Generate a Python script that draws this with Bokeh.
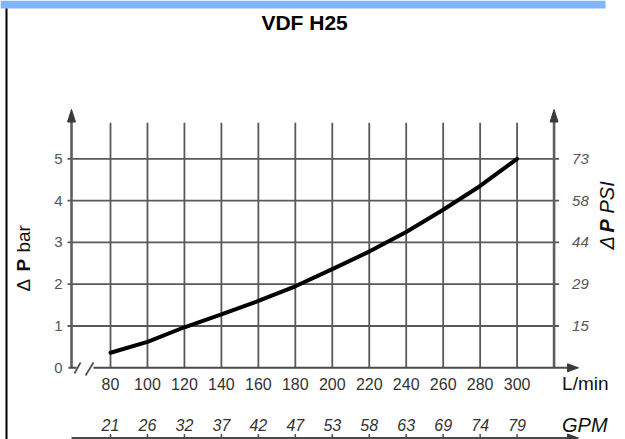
import numpy as np
from bokeh.plotting import figure
from bokeh.models import Range1d
from bokeh.core.properties import value
from bokeh.embed import file_html
from bokeh.resources import INLINE

# ---------------- data ----------------
title = "VDF H25"
flow_lpm = [80, 100, 120, 140, 160, 180, 200, 220, 240, 260, 280, 300]
dp_bar = [0.36, 0.62, 0.97, 1.28, 1.60, 1.95, 2.36, 2.78, 3.25, 3.78, 4.35, 5.00]
bar_ticks = [0, 1, 2, 3, 4, 5]
psi_ticks = [1, 2, 3, 4, 5]
psi_labels = ["15", "29", "44", "58", "73"]
gpm_labels = ["21", "26", "32", "37", "42", "47", "53", "58", "63", "69", "74", "79"]
x_label = "L/min"
x2_label = "GPM"

# ---------------- layout constants ----------------
FONT = value("Liberation Sans")
W, H = 625, 439
X0, X1 = 20.48, 358.65
Y0, Y1 = -1.715, 8.787
PXX = W / (X1 - X0)   # px per L/min
PXY = H / (Y1 - Y0)   # px per bar
left_x, right_x = 58.9, 320.0
grid_top = 5.86
tip_y = 6.18
base_y = grid_top + 0.02
x_tip = 333.2
x_base = 327.3
gpm_y = -1.68
GRID = "#595959"

p = figure(width=W, height=H, x_range=Range1d(X0, X1), y_range=Range1d(Y0, Y1),
           output_backend="svg", toolbar_location=None, min_border=0,
           x_axis_location=None, y_axis_location=None)
for g in p.grid:
    g.visible = False
p.outline_line_color = None
p.background_fill_color = "white"
p.border_fill_color = "white"

# top blue band and left page border line
p.quad(left=[X0], right=[X0 + 605 / PXX], top=[Y1], bottom=[Y1 - 8 / PXY],
       fill_color="#80b4ff", line_color=None)
p.segment(x0=[X0 + 6 / PXX], y0=[Y0], x1=[X0 + 6 / PXX], y1=[Y1 - 8 / PXY],
          line_color="black", line_width=2)

# vertical grid lines
p.segment(x0=flow_lpm, y0=[0] * len(flow_lpm), x1=flow_lpm, y1=[grid_top] * len(flow_lpm),
          line_color=GRID, line_width=1.8)
# horizontal grid lines (with small outer ticks)
hy = bar_ticks[1:]
p.segment(x0=[left_x - 4 / PXX] * len(hy), y0=hy, x1=[right_x + 5 / PXX] * len(hy), y1=hy,
          line_color=GRID, line_width=1.8)

# axis lines
p.segment(x0=[left_x, right_x], y0=[0, 0], x1=[left_x, right_x], y1=[base_y, base_y],
          line_color="#5e5e5e", line_width=2.6)
# baseline with break
p.segment(x0=[left_x - 3 / PXX, 70.8], y0=[0, 0], x1=[61.6, x_base], y1=[0, 0],
          line_color="#4a4a4a", line_width=2)
p.segment(x0=[60.5, 66.5], y0=[-0.136, -0.184], x1=[63.8, 70.8], y1=[0.127, 0.127],
          line_color="#4a4a4a", line_width=1.6)

# GPM axis line at the bottom, with small ticks
p.segment(x0=[left_x], y0=[gpm_y], x1=[x_base], y1=[gpm_y], line_color="#4a4a4a", line_width=2)
p.segment(x0=flow_lpm, y0=[gpm_y] * len(flow_lpm), x1=flow_lpm,
          y1=[gpm_y + 4 / PXY] * len(flow_lpm), line_color="#4a4a4a", line_width=1.5)

# arrow heads
hw = 4 / PXX
hh = 4 / PXY
p.patches(xs=[[left_x, left_x - hw, left_x + hw], [right_x, right_x - hw, right_x + hw],
              [x_tip, x_base, x_base], [x_tip, x_base, x_base]],
          ys=[[tip_y, base_y, base_y], [tip_y, base_y, base_y], [0, hh, -hh],
              [gpm_y, gpm_y + hh, gpm_y - hh]],
          fill_color="#3a3a3a", line_color="#3a3a3a", line_width=1)

# curve
p.line(flow_lpm, dp_bar, line_color="black", line_width=4, line_cap="round", line_join="round")

# title
p.text(x=[185], y=[8.26], text=[title], text_font=FONT, text_font_style="bold",
       text_font_size="21px", text_align="center", text_baseline="middle", text_color="black")

# left tick labels
p.text(x=[left_x] * len(bar_ticks), y=bar_ticks, text=[str(t) for t in bar_ticks],
       x_offset=-9, text_font=FONT, text_font_size="15px", text_align="right",
       text_baseline="middle", text_color="#555555")
# right tick labels (PSI)
p.text(x=[right_x] * len(psi_ticks), y=psi_ticks, text=psi_labels, x_offset=18,
       text_font=FONT, text_font_size="15px", text_font_style="italic", text_align="left",
       text_baseline="middle", text_color="#555555")
# x tick labels (L/min)
p.text(x=flow_lpm, y=[0] * len(flow_lpm), text=[str(v) for v in flow_lpm], y_offset=16,
       text_font=FONT, text_font_size="16px", text_align="center", text_baseline="middle",
       text_color="#333333")
# second x tick labels (GPM)
p.text(x=flow_lpm, y=[0] * len(flow_lpm), text=gpm_labels, y_offset=57,
       text_font=FONT, text_font_size="16px", text_font_style="italic", text_align="center",
       text_baseline="middle", text_color="#333333")
# unit labels
p.text(x=[right_x], y=[0], text=[x_label], x_offset=8, y_offset=16, text_font=FONT,
       text_font_size="19px", text_align="left", text_baseline="middle", text_color="#111111")
p.text(x=[right_x], y=[0], text=[x2_label], x_offset=8, y_offset=57, text_font=FONT,
       text_font_size="20px", text_font_style="italic", text_align="left",
       text_baseline="middle", text_color="#111111")

# left axis title: "Δ P bar" (rotated)
lx, ly = 32.9, 1.825
p.text(x=[lx, lx, lx], y=[ly, ly, ly], text=["Δ", "P", "bar"], y_offset=[0, -20, -39],
       angle=np.pi / 2, text_font=FONT, text_font_size="19px",
       text_font_style=["normal", "bold", "normal"], text_align="left",
       text_baseline="middle", text_color="#111111")

# right axis title: "Δ P PSI" (rotated, italic)
rx, ry = 348.9, 2.83
p.text(x=[rx, rx, rx], y=[ry, ry, ry], text=["Δ", "P", "PSI"], y_offset=[0, -17, -36],
       angle=np.pi / 2, text_font=FONT, text_font_size="20px",
       text_font_style=["italic", "bold italic", "italic"], text_align="left",
       text_baseline="middle", text_color="#111111")

open("out.html", "w").write(file_html(p, INLINE))
